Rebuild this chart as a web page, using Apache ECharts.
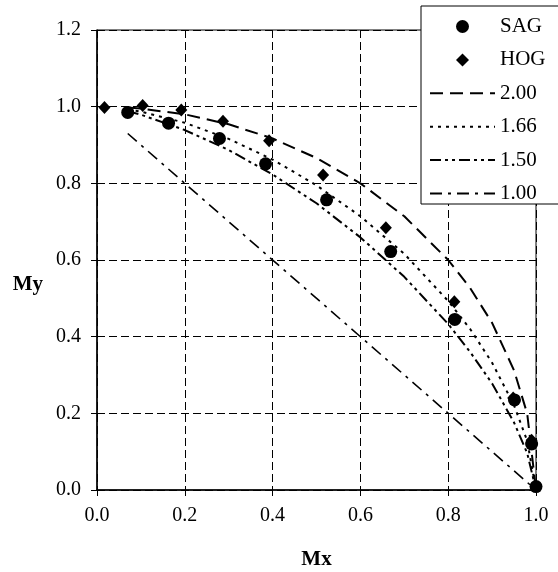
<!DOCTYPE html>
<html>
<head>
<meta charset="utf-8">
<script src="https://cdn.jsdelivr.net/npm/echarts@6/dist/echarts.min.js"></script>
<style>
  html, body { margin: 0; padding: 0; background: #fff; }
  #chart { width: 558px; height: 572px; }
</style>
</head>
<body>
<div id="chart"></div>
<script>
// Measured moment ratios
const sagMx = [0.070, 0.163, 0.279, 0.384, 0.523, 0.669, 0.815, 0.951, 0.990, 1.000];
const sagMy = [0.985, 0.957, 0.917, 0.851, 0.757, 0.622, 0.445, 0.235, 0.120, 0.009];
const hogMx = [0.017, 0.104, 0.192, 0.287, 0.392, 0.515, 0.658, 0.814, 0.948, 0.990, 1.000];
const hogMy = [0.998, 1.003, 0.991, 0.962, 0.911, 0.822, 0.684, 0.491, 0.240, 0.130, 0.010];

// Interaction curves, sampled along Mx
const curveMx = [0.07, 0.10, 0.20, 0.30, 0.40, 0.50, 0.60, 0.70, 0.80, 0.85, 0.90, 0.95, 0.98, 1.00];
const curve200 = [0.998, 0.995, 0.980, 0.954, 0.917, 0.866, 0.800, 0.714, 0.600, 0.527, 0.436, 0.312, 0.199, 0.000];
const curve166 = [0.993, 0.987, 0.958, 0.916, 0.862, 0.795, 0.714, 0.616, 0.493, 0.420, 0.332, 0.221, 0.128, 0.000];
const curve150 = [0.988, 0.979, 0.939, 0.887, 0.823, 0.748, 0.659, 0.556, 0.433, 0.360, 0.278, 0.176, 0.096, 0.000];
const line100Mx = [0.07, 1.00];
const line100My = [0.93, 0.00];

const xTicks = ['0.0', '0.2', '0.4', '0.6', '0.8', '1.0'];
const yTicks = ['0.0', '0.2', '0.4', '0.6', '0.8', '1.0', '1.2'];
const legendNames = ['SAG', 'HOG', '2.00', '1.66', '1.50', '1.00'];

const zip = (xs, ys) => xs.map((x, i) => [x, ys[i]]);
const FONT = '"Liberation Serif", "Times New Roman", serif';
const HIDDEN = { color: 'rgba(0,0,0,0)', borderWidth: 0 };
const DIAMOND = 'path://M0,-1L1,0L0,1L-1,0Z';

const lineSeries = (name, xs, ys, dash, width) => ({
  name: name,
  type: 'line',
  data: zip(xs, ys),
  symbol: 'none',
  smooth: false,
  z: 2,
  lineStyle: { color: '#000', width: width, type: dash },
  itemStyle: { color: '#000' }
});

const legendItem = (n) => {
  if (n === 'SAG') return { name: n, icon: 'circle' };
  if (n === 'HOG') return { name: n, icon: DIAMOND };
  return { name: n, itemStyle: HIDDEN };
};

const chart = echarts.init(document.getElementById('chart'), null, { renderer: 'canvas' });
chart.setOption({
  animation: false,
  backgroundColor: '#fff',
  grid: {
    left: 97, right: 22, top: 30, bottom: 82,
    outerBoundsMode: 'none', containLabel: false,
    show: true, borderColor: '#000', borderWidth: 1, backgroundColor: 'transparent'
  },
  xAxis: {
    type: 'value', min: 0, max: 1, interval: 0.2,
    name: 'Mx', nameLocation: 'middle', nameGap: 59,
    nameTextStyle: { fontFamily: FONT, fontWeight: 'bold', fontSize: 21, color: '#000' },
    axisLine: { lineStyle: { color: '#000', width: 1.5 } },
    axisTick: { show: true, length: 6, lineStyle: { color: '#000' } },
    axisLabel: {
      margin: 16, fontFamily: FONT, fontSize: 20, color: '#000',
      formatter: (v) => xTicks[Math.round(v / 0.2)]
    },
    splitLine: { show: true, lineStyle: { color: '#000', width: 1, type: [8, 4] } }
  },
  yAxis: {
    type: 'value', min: 0, max: 1.2, interval: 0.2,
    name: 'My', nameLocation: 'middle', nameGap: 54, nameRotate: 0,
    nameTextStyle: {
      fontFamily: FONT, fontWeight: 'bold', fontSize: 21, color: '#000',
      verticalAlign: 'top', lineHeight: 50
    },
    axisLine: { show: true, lineStyle: { color: '#000', width: 1.5 } },
    axisTick: { show: true, length: 6, lineStyle: { color: '#000' } },
    axisLabel: {
      margin: 16, fontFamily: FONT, fontSize: 20, color: '#000',
      formatter: (v) => yTicks[Math.round(v / 0.2)]
    },
    splitLine: { show: true, lineStyle: { color: '#000', width: 1, type: [8, 4] } }
  },
  legend: {
    orient: 'vertical',
    left: 421, top: 6,
    padding: [10, 30, 0, 8],
    itemWidth: 65, itemHeight: 13, itemGap: 12.4,
    symbolKeepAspect: true,
    backgroundColor: '#fff', borderColor: '#000', borderWidth: 1,
    textStyle: { fontFamily: FONT, fontSize: 21, color: '#000', lineHeight: 20 },
    data: legendNames.map(legendItem)
  },
  series: [
    lineSeries('2.00', curveMx, curve200, [13, 7], 2),
    lineSeries('1.66', curveMx, curve166, [3, 5], 2),
    lineSeries('1.50', curveMx, curve150, [11, 4, 3, 4, 3, 4], 2),
    lineSeries('1.00', line100Mx, line100My, [12, 6, 3, 6], 1.6),
    {
      name: 'SAG', type: 'scatter', data: zip(sagMx, sagMy),
      symbol: 'circle', symbolSize: 13, z: 4,
      itemStyle: { color: '#000', opacity: 1 }
    },
    {
      name: 'HOG', type: 'scatter', data: zip(hogMx, hogMy),
      symbol: 'diamond', symbolSize: [12, 13], z: 3,
      itemStyle: { color: '#000', opacity: 1 }
    }
  ]
});
</script>
</body>
</html>
